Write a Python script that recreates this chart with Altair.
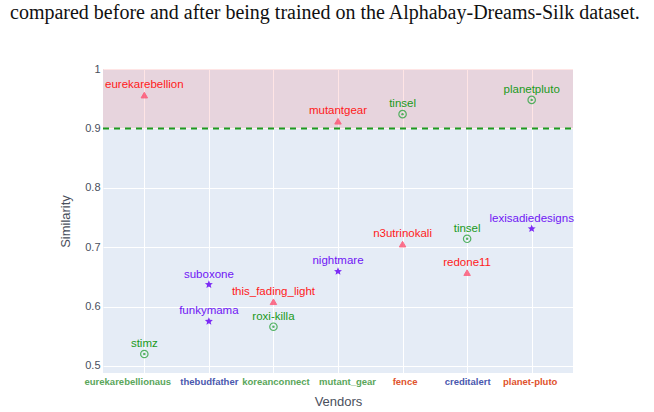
import math
import altair as alt
import pandas as pd

# Vendors on the x axis and the accounts plotted above each of them
vendors = ["eurekarebellionaus", "thebudfather", "koreanconnect", "mutant_gear",
           "fence", "creditalert", "planet-pluto"]

point_vendor = ["eurekarebellionaus", "eurekarebellionaus",
                "thebudfather", "thebudfather",
                "koreanconnect", "koreanconnect",
                "mutant_gear", "mutant_gear",
                "fence", "fence",
                "creditalert", "creditalert",
                "planet-pluto", "planet-pluto"]
point_label = ["eurekarebellion", "stimz",
               "suboxone", "funkymama",
               "this_fading_light", "roxi-killa",
               "mutantgear", "nightmare",
               "tinsel", "n3utrinokali",
               "tinsel", "redone11",
               "planetpluto", "lexisadiedesigns"]
point_similarity = [0.956, 0.520,
                    0.637, 0.575,
                    0.608, 0.566,
                    0.912, 0.659,
                    0.924, 0.705,
                    0.714, 0.657,
                    0.948, 0.731]
point_kind = ["triangle", "circle",
              "star", "star",
              "triangle", "circle",
              "triangle", "star",
              "circle", "triangle",
              "circle", "triangle",
              "circle", "star"]

threshold = 0.9
y_ticks = [0.5, 0.6, 0.7, 0.8, 0.9, 1.0]

green_vendors = ["eurekarebellionaus", "koreanconnect", "mutant_gear"]
blue_vendors = ["thebudfather", "creditalert"]
red_vendors = ["fence", "planet-pluto"]

df = pd.DataFrame({
    "vendor": point_vendor,
    "label": point_label,
    "similarity": point_similarity,
    "kind": point_kind,
})

FONT = "Liberation Sans"
AXIS_GREY = "#4a4f5c"
RED, GREEN, PURPLE = "#ff1a1a", "#1a9a1a", "#7016f5"


def star_path(outer=1.0, inner=0.45):
    pts = []
    for k in range(10):
        r = outer if k % 2 == 0 else inner
        a = math.radians(-90 + 36 * k)
        pts.append(f"{r * math.cos(a):.3f},{r * math.sin(a):.3f}")
    return "M" + "L".join(pts) + "Z"


STAR = star_path()


def js_list(items):
    return "[" + ",".join(f"'{v}'" for v in items) + "]"


x_enc = alt.X(
    "vendor:N",
    sort=vendors,
    scale=alt.Scale(type="point", domain=vendors, padding=0.64),
    axis=alt.Axis(
        title="Vendors", labelAngle=0, labelFont=FONT, labelFontSize=9.5,
        labelFontWeight="bold", labelPadding=3, ticks=False, domain=False,
        labelOverlap=False,
        grid=True, gridColor="white", gridWidth=1,
        labelColor={
            "condition": [
                {"test": f"indexof({js_list(red_vendors)}, datum.value) >= 0", "value": "#e0522c"},
                {"test": f"indexof({js_list(blue_vendors)}, datum.value) >= 0", "value": "#4a58ae"},
            ],
            "value": "#5aa65a",
        },
        # the long first and fourth names are nudged so neighbours don't collide
        labelOffset={
            "condition": [
                {"test": "datum.value == 'eurekarebellionaus'", "value": -17},
                {"test": "datum.value == 'mutant_gear'", "value": 9},
                {"test": "datum.value == 'koreanconnect' || datum.value == 'fence'", "value": 2},
                {"test": "datum.value == 'planet-pluto'", "value": -2},
            ],
            "value": 0,
        },
        titleFont=FONT, titleFontSize=13, titleFontWeight="normal",
        titleColor=AXIS_GREY, titlePadding=10,
    ),
)

y_scale = alt.Scale(domain=[0.488, 1.0], nice=False, zero=False)
y_enc = alt.Y(
    "similarity:Q",
    scale=y_scale,
    axis=alt.Axis(
        title="Similarity", values=y_ticks,
        labelExpr="datum.value == 1 ? '1' : format(datum.value, '.1f')",
        labelFont=FONT, labelFontSize=11, labelColor=AXIS_GREY, labelPadding=3,
        ticks=False, domain=False, grid=True, gridColor="white", gridWidth=1,
        titleFont=FONT, titleFontSize=13, titleFontWeight="normal",
        titleColor=AXIS_GREY, titlePadding=12,
    ),
)

base = alt.Chart(df).encode(x=x_enc, y=y_enc)

# shaded band above the threshold and the dashed threshold line
band = alt.Chart(pd.DataFrame({"lo": [threshold], "hi": [1.0]})).mark_rect(
    color="red", opacity=0.1
).encode(
    y=alt.Y("lo:Q", scale=y_scale),
    y2="hi:Q",
    x=alt.value(0),
    x2=alt.value(470),
)

rule = alt.Chart(pd.DataFrame({"t": [threshold]})).mark_rule(
    color="#1f9a1f", strokeWidth=2, strokeDash=[6, 5]
).encode(y=alt.Y("t:Q", scale=y_scale), x=alt.value(0), x2=alt.value(470))

tri = base.transform_filter(alt.datum.kind == "triangle").mark_point(
    shape="triangle-up", filled=True, size=42, color="#ff4466", opacity=0.75,
    stroke="#ff4466", strokeWidth=1
)
circ = base.transform_filter(alt.datum.kind == "circle").mark_point(
    shape="circle", filled=False, size=55, color="#3aa84a", strokeWidth=1.2, opacity=0.85
)
circ_dot = base.transform_filter(alt.datum.kind == "circle").mark_point(
    shape="circle", filled=True, size=6, color="#3aa84a", opacity=0.85
)
star = base.transform_filter(alt.datum.kind == "star").mark_point(
    shape=STAR, filled=True, size=70, color=PURPLE, opacity=0.9
)

labels = base.mark_text(
    font=FONT, fontSize=11.5, baseline="alphabetic", dy=-7
).encode(
    text="label:N",
    color=alt.Color(
        "kind:N",
        scale=alt.Scale(domain=["triangle", "circle", "star"], range=[RED, GREEN, PURPLE]),
        legend=None,
    ),
)

chart = alt.layer(band, rule, tri, circ, circ_dot, star, labels).properties(
    width=470,
    height=304,
    autosize=alt.AutoSizeParams(type="none"),
    padding={"left": 103, "top": 69, "right": 81, "bottom": 39},
    title=alt.TitleParams(
        "compared before and after being trained on the Alphabay-Dreams-Silk dataset.",
        anchor="start", frame="group", dx=-93, offset=24, baseline="alphabetic",
        font="Liberation Serif", fontSize=20, fontWeight="normal", color="#111111",
    ),
).configure(
    background="white",
    view=alt.ViewConfig(fill="#e5ecf6", strokeWidth=0),
)

chart.save("out.html", embed_options={"renderer": "svg", "actions": False})
